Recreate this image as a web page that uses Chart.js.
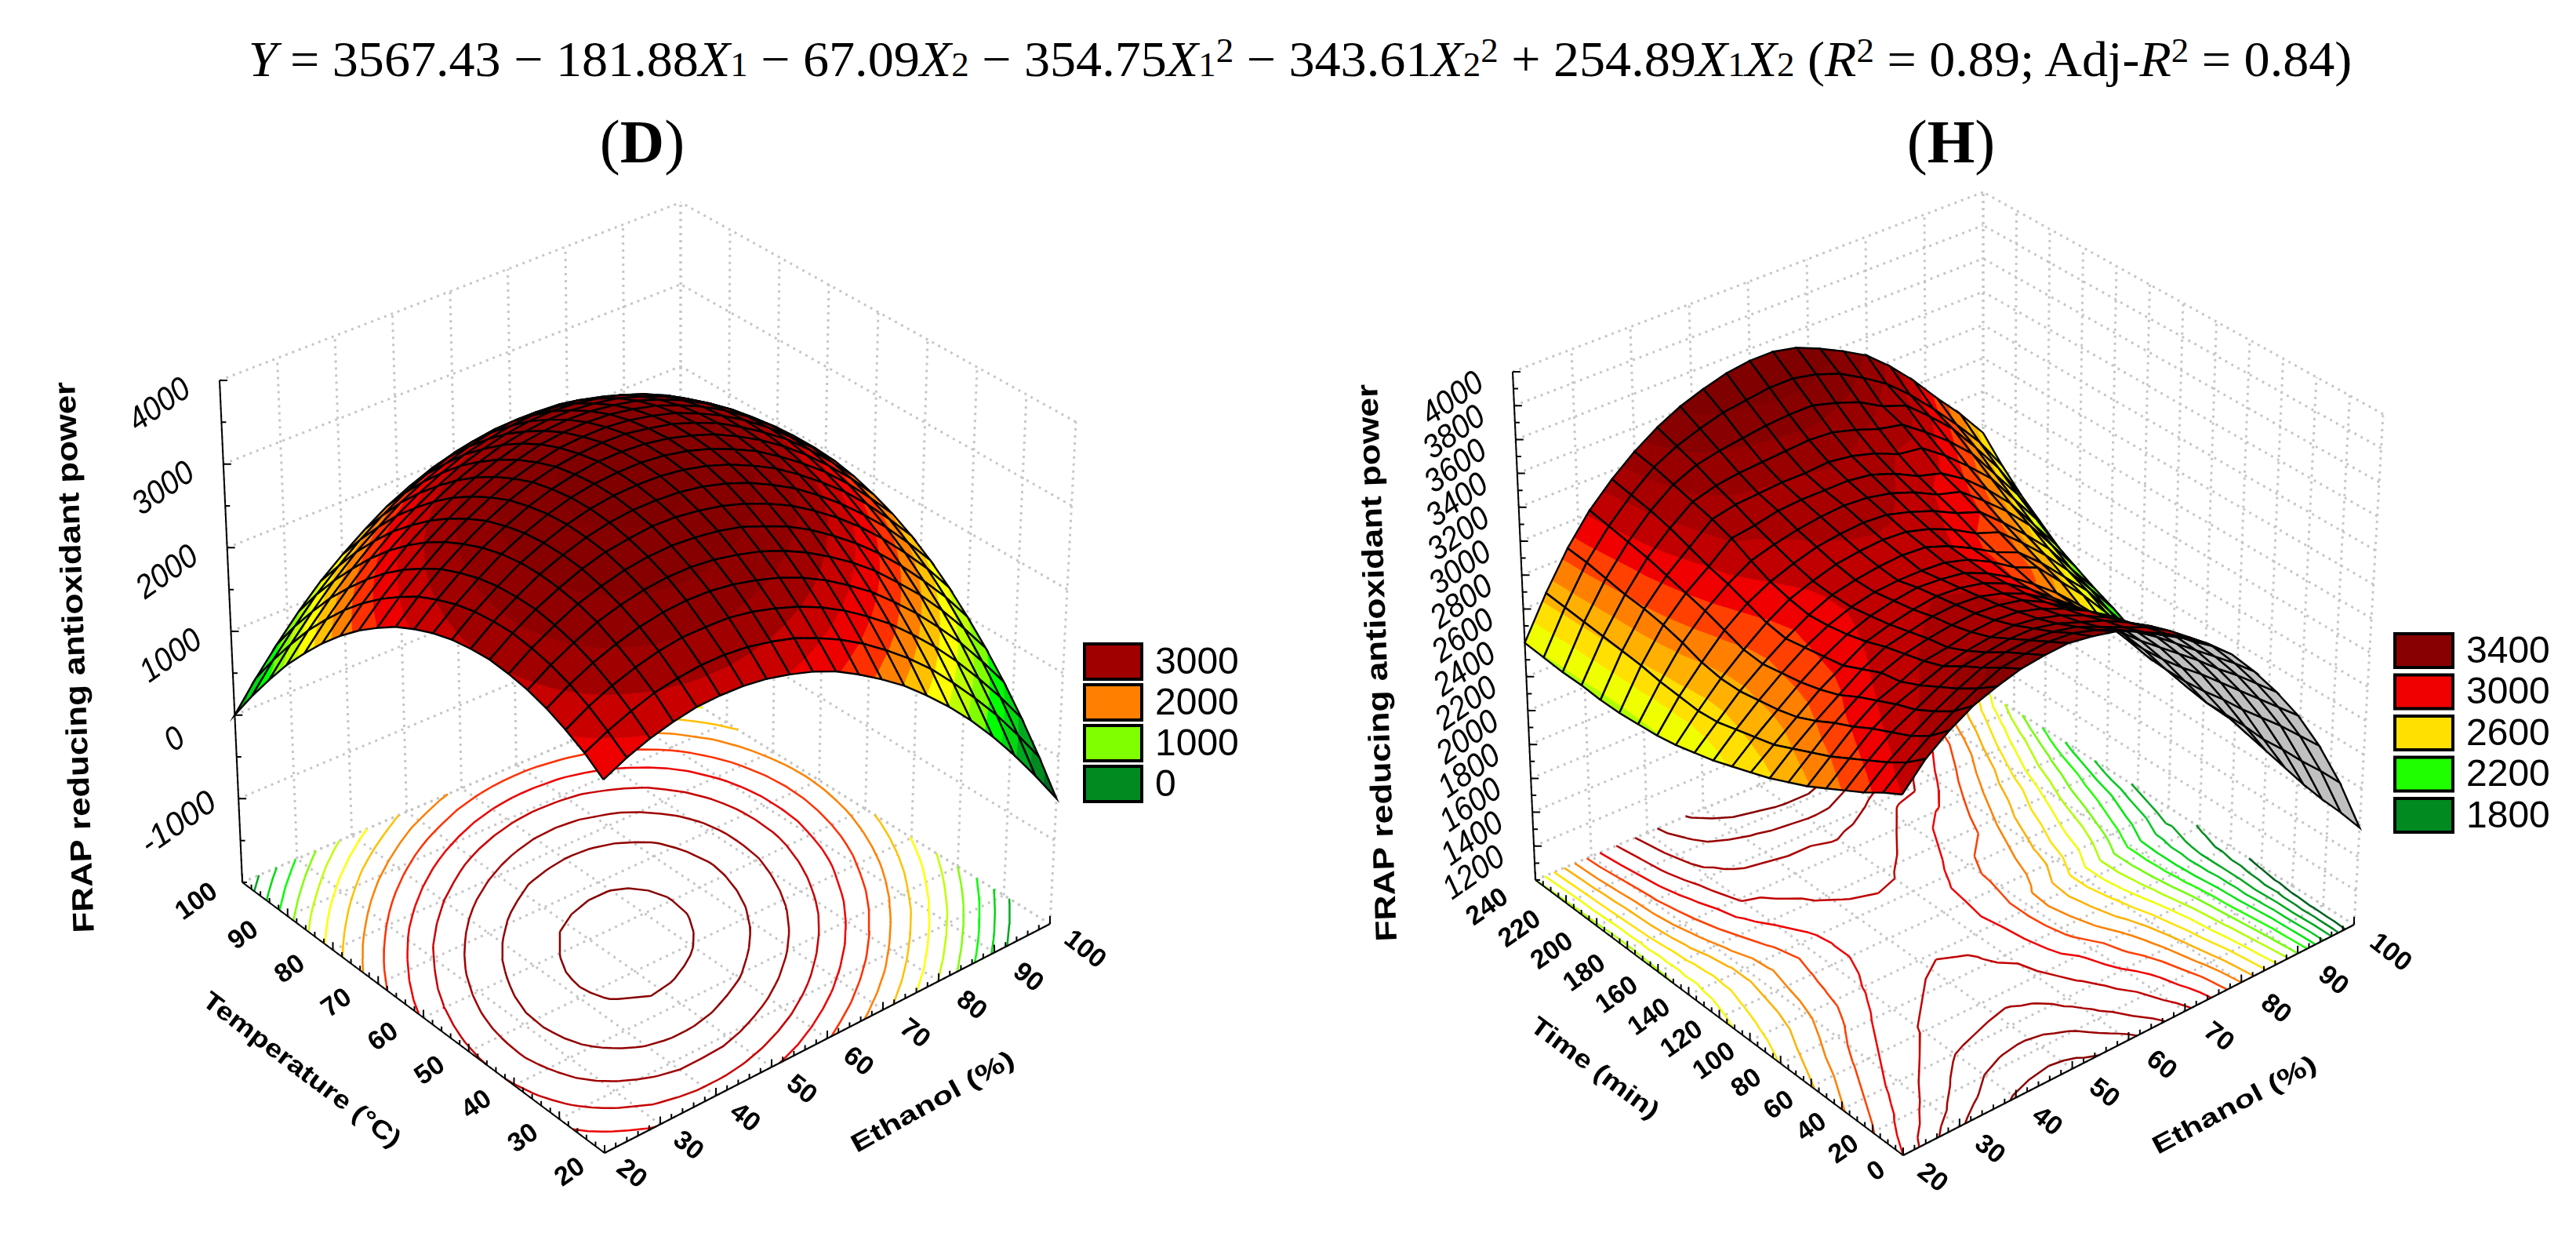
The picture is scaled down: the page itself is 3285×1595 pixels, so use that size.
<!DOCTYPE html>
<html lang="en">
<head>
<meta charset="UTF-8">
<title>FRAP response surfaces</title>
<script src="https://cdn.jsdelivr.net/npm/chart.js"></script>
<style>
  html, body { margin: 0; background: #fff; overflow: hidden; }
  #page { position: relative; width: 3285px; height: 1595px; }
  canvas { position: absolute; top: 0; }
  #equation { position: absolute; left: 1658px; top: 39px; white-space: nowrap; transform: translateX(-50%) scaleX(1.033);
    font: 64px "Liberation Serif", serif; color: #000; }
  #equation i { font-style: italic; }
  #equation .s { font-size: 0.68em; }
  #equation sup { font-size: 0.68em; line-height: 0; vertical-align: 0.42em; }
  .letter { position: absolute; top: 136px; transform: translateX(-50%); font: 78px "Liberation Serif", serif; }
  .letter b { font-weight: bold; }
</style>
</head>
<body>
<div id="page">
  <div id="equation"><i>Y</i> = 3567.43 − 181.88<i>X</i><span class="s">1</span> − 67.09<i>X</i><span class="s">2</span> − 354.75<i>X</i><span class="s">1</span><sup>2</sup> − 343.61<i>X</i><span class="s">2</span><sup>2</sup> + 254.89<i>X</i><span class="s">1</span><i>X</i><span class="s">2</span> (<i>R</i><sup>2</sup> = 0.89; Adj-<i>R</i><sup>2</sup> = 0.84)</div>
  <div class="letter" style="left:819px">(<b>D</b>)</div>
  <div class="letter" style="left:2488px">(<b>H</b>)</div>
  <canvas id="chartD" width="1640" height="1595" style="left:0"></canvas>
  <canvas id="chartH" width="1645" height="1595" style="left:1640px"></canvas>
</div>
<script>
  const ethanolTicks = [20, 30, 40, 50, 60, 70, 80, 90, 100];
  const temperatureTicks = [20, 30, 40, 50, 60, 70, 80, 90, 100];
  const timeTicks = [0, 20, 40, 60, 80, 100, 120, 140, 160, 180, 200, 220, 240];
  const frapTicksD = [-1000, 0, 1000, 2000, 3000, 4000];
  const frapTicksH = [1200, 1400, 1600, 1800, 2000, 2200, 2400, 2600, 2800, 3000, 3200, 3400, 3600, 3800, 4000];

  const ethanolGrid = [20, 24, 28, 32, 36, 40, 44, 48, 52, 56, 60, 64, 68, 72, 76, 80, 84, 88, 92, 96, 100];
  const temperatureGrid = [20, 24, 28, 32, 36, 40, 44, 48, 52, 56, 60, 64, 68, 72, 76, 80, 84, 88, 92, 96, 100];
  const timeGrid = [0, 12, 24, 36, 48, 60, 72, 84, 96, 108, 120, 132, 144, 156, 168, 180, 192, 204, 216, 228, 240];

  // one row per temperature, one column per ethanol
  const frapD = [
    [2250, 2380, 2480, 2550, 2600, 2610, 2600, 2560, 2490, 2400, 2280, 2120, 1940, 1740, 1500, 1240, 950, 630, 280, -100, -500],
    [2410, 2540, 2650, 2740, 2790, 2820, 2820, 2790, 2730, 2650, 2530, 2390, 2220, 2020, 1800, 1550, 1260, 950, 620, 250, -140],
    [2530, 2680, 2800, 2890, 2960, 3000, 3000, 2990, 2940, 2860, 2760, 2630, 2470, 2280, 2070, 1820, 1550, 1250, 920, 570, 190],
    [2630, 2790, 2920, 3020, 3100, 3150, 3170, 3160, 3120, 3050, 2960, 2840, 2690, 2510, 2310, 2070, 1810, 1520, 1210, 860, 490],
    [2700, 2870, 3010, 3130, 3210, 3270, 3300, 3300, 3270, 3210, 3130, 3020, 2880, 2710, 2520, 2300, 2040, 1770, 1460, 1120, 760],
    [2740, 2920, 3070, 3200, 3290, 3360, 3400, 3410, 3390, 3350, 3280, 3170, 3050, 2890, 2700, 2490, 2250, 1980, 1680, 1360, 1000],
    [2760, 2950, 3110, 3240, 3350, 3430, 3470, 3500, 3490, 3450, 3390, 3300, 3180, 3040, 2860, 2660, 2430, 2170, 1880, 1570, 1220],
    [2740, 2940, 3110, 3260, 3370, 3460, 3520, 3550, 3550, 3530, 3480, 3400, 3290, 3150, 2990, 2790, 2570, 2320, 2050, 1740, 1410],
    [2700, 2910, 3090, 3250, 3370, 3470, 3540, 3580, 3590, 3580, 3540, 3470, 3370, 3240, 3090, 2900, 2690, 2460, 2190, 1890, 1570],
    [2630, 2850, 3040, 3210, 3340, 3450, 3530, 3580, 3600, 3600, 3570, 3510, 3420, 3300, 3160, 2980, 2780, 2560, 2300, 2010, 1700],
    [2530, 2760, 2960, 3140, 3280, 3400, 3490, 3550, 3590, 3590, 3570, 3520, 3440, 3340, 3200, 3040, 2850, 2630, 2380, 2110, 1800],
    [2410, 2650, 2860, 3040, 3200, 3330, 3430, 3500, 3540, 3560, 3550, 3500, 3440, 3340, 3220, 3060, 2880, 2680, 2440, 2170, 1880],
    [2250, 2500, 2720, 2920, 3080, 3220, 3330, 3410, 3470, 3490, 3490, 3460, 3400, 3320, 3200, 3060, 2890, 2690, 2460, 2210, 1930],
    [2070, 2330, 2560, 2770, 2940, 3090, 3210, 3300, 3370, 3400, 3410, 3390, 3340, 3270, 3160, 3030, 2870, 2680, 2460, 2220, 1950],
    [1860, 2130, 2370, 2590, 2770, 2930, 3060, 3160, 3240, 3280, 3300, 3290, 3250, 3190, 3090, 2970, 2820, 2640, 2430, 2200, 1940],
    [1620, 1900, 2150, 2380, 2570, 2740, 2880, 2990, 3080, 3130, 3160, 3160, 3130, 3080, 2990, 2880, 2740, 2570, 2380, 2150, 1900],
    [1350, 1640, 1900, 2140, 2350, 2520, 2670, 2800, 2890, 2960, 3000, 3010, 2990, 2940, 2870, 2770, 2640, 2480, 2290, 2080, 1840],
    [1060, 1360, 1630, 1870, 2090, 2280, 2440, 2570, 2680, 2750, 2800, 2820, 2810, 2780, 2710, 2620, 2500, 2360, 2180, 1980, 1740],
    [730, 1040, 1320, 1580, 1810, 2000, 2180, 2320, 2430, 2520, 2580, 2610, 2610, 2590, 2530, 2450, 2340, 2200, 2040, 1840, 1620],
    [380, 700, 990, 1260, 1490, 1700, 1880, 2040, 2160, 2260, 2330, 2370, 2380, 2360, 2320, 2250, 2150, 2020, 1870, 1680, 1470],
    [0, 330, 630, 910, 1160, 1370, 1560, 1730, 1860, 1970, 2050, 2100, 2120, 2120, 2080, 2020, 1930, 1810, 1670, 1490, 1290]
  ];

  // one row per time, one column per ethanol
  const frapH = [
    [3000, 3140, 3240, 3320, 3370, 3410, 3430, 3440, 3420, 3390, 3330, 3250, 3170, 3080, 2960, 2800, 2620, 2420, 2180, 1900, 1570],
    [2940, 3050, 3140, 3220, 3290, 3350, 3370, 3380, 3370, 3330, 3270, 3200, 3130, 3050, 2940, 2780, 2600, 2400, 2170, 1900, 1590],
    [2870, 2980, 3070, 3150, 3220, 3280, 3310, 3320, 3310, 3280, 3220, 3160, 3100, 3020, 2900, 2750, 2580, 2380, 2160, 1890, 1600],
    [2810, 2920, 3020, 3090, 3160, 3220, 3240, 3260, 3260, 3230, 3180, 3130, 3060, 2980, 2870, 2720, 2550, 2360, 2140, 1890, 1620],
    [2750, 2860, 2970, 3050, 3100, 3150, 3180, 3200, 3210, 3190, 3150, 3090, 3020, 2930, 2830, 2690, 2530, 2340, 2120, 1880, 1650],
    [2690, 2800, 2910, 3000, 3050, 3110, 3130, 3160, 3170, 3160, 3120, 3060, 2990, 2900, 2790, 2660, 2500, 2320, 2110, 1890, 1680],
    [2640, 2750, 2860, 2950, 3030, 3080, 3110, 3130, 3140, 3130, 3100, 3030, 2940, 2850, 2740, 2620, 2470, 2290, 2090, 1890, 1710],
    [2590, 2700, 2800, 2890, 2980, 3050, 3080, 3110, 3120, 3110, 3070, 3010, 2920, 2820, 2710, 2590, 2440, 2270, 2080, 1890, 1740],
    [2550, 2650, 2750, 2850, 2930, 3010, 3050, 3080, 3100, 3090, 3060, 3000, 2910, 2800, 2690, 2570, 2420, 2260, 2080, 1910, 1780],
    [2510, 2620, 2720, 2820, 2910, 2980, 3030, 3060, 3080, 3070, 3050, 2990, 2910, 2810, 2700, 2570, 2420, 2260, 2090, 1940, 1820],
    [2470, 2590, 2700, 2800, 2890, 2960, 3010, 3040, 3050, 3050, 3040, 3000, 2930, 2840, 2780, 2640, 2500, 2340, 2160, 2000, 1800],
    [2440, 2560, 2680, 2780, 2870, 2950, 3010, 3040, 3060, 3070, 3060, 3010, 2940, 2860, 2800, 2680, 2540, 2400, 2220, 2050, 1850],
    [2410, 2550, 2680, 2790, 2890, 2970, 3020, 3060, 3080, 3090, 3080, 3040, 2980, 2900, 2850, 2730, 2600, 2450, 2280, 2110, 1900],
    [2390, 2560, 2700, 2830, 2930, 3000, 3050, 3090, 3110, 3120, 3110, 3070, 3020, 2950, 2900, 2780, 2650, 2510, 2330, 2160, 1940],
    [2380, 2570, 2740, 2870, 2970, 3050, 3090, 3120, 3140, 3150, 3140, 3110, 3060, 2990, 2950, 2840, 2720, 2580, 2400, 2220, 2000],
    [2370, 2590, 2770, 2900, 3000, 3110, 3130, 3160, 3170, 3170, 3170, 3150, 3100, 3030, 2990, 2900, 2780, 2640, 2460, 2280, 2060],
    [2370, 2600, 2790, 2930, 3040, 3150, 3180, 3190, 3200, 3200, 3210, 3190, 3150, 3090, 3070, 2970, 2850, 2720, 2540, 2360, 2130],
    [2380, 2610, 2800, 2960, 3080, 3180, 3220, 3240, 3250, 3260, 3270, 3260, 3220, 3170, 3140, 3040, 2930, 2800, 2620, 2440, 2220],
    [2380, 2620, 2820, 2980, 3110, 3210, 3270, 3300, 3320, 3340, 3350, 3350, 3310, 3260, 3180, 3130, 3010, 2880, 2710, 2530, 2310],
    [2390, 2630, 2840, 3000, 3130, 3240, 3310, 3360, 3400, 3420, 3440, 3440, 3410, 3360, 3280, 3190, 3070, 2930, 2780, 2620, 2420],
    [2400, 2640, 2850, 3020, 3150, 3260, 3350, 3420, 3470, 3510, 3530, 3530, 3500, 3440, 3370, 3290, 3170, 3030, 2870, 2720, 2550]
  ];

  const bandFloorsD = [-500, -250, 0, 250, 500, 750, 1000, 1250, 1500, 1750, 2000, 2250, 2500, 2750, 3000, 3250, 3500];
  const bandColorsD = ['#006a20', '#008a20', '#00a820', '#00d810', '#00ff00', '#80ff00', '#c0ff00', '#ffff00', '#ffc000',
    '#ff8000', '#ff3000', '#ee0000', '#c80000', '#a00000', '#900000', '#860000', '#800000'];
  const contourLevelsD = [250, 500, 750, 1000, 1250, 1500, 1750, 2000, 2250, 2500, 2750, 3000, 3250, 3500];

  const bandFloorsH = [1600, 1700, 1800, 1900, 2000, 2100, 2200, 2300, 2400, 2500, 2600, 2700, 2800, 2900, 3000, 3100, 3200, 3300, 3400];
  const bandColorsH = ['#006020', '#008a20', '#00a820', '#00c820', '#00e610', '#20ff00', '#70ff00', '#b0ff00', '#f0ff00', '#ffe000',
    '#ffb000', '#ff8000', '#ff4000', '#f00000', '#c00000', '#a80000', '#980000', '#880000', '#800000'];
  const contourLevelsH = [1700, 1800, 1900, 2000, 2100, 2200, 2300, 2400, 2500, 2600, 2700, 2800, 2900, 3000, 3100, 3200, 3300, 3400];

  const legendLabelsD = ['3000', '2000', '1000', '0'];
  const legendColorsD = ['#a00000', '#ff8000', '#80ff00', '#008a20'];
  const legendLabelsH = ['3400', '3000', '2600', '2200', '1800'];
  const legendColorsH = ['#880000', '#f00000', '#ffe000', '#20ff00', '#008a20'];

  const FRAP_TITLE = 'FRAP reducing antioxidant power';

  const panelD = {
    id: 'chartD', width: 1640,
    xGrid: ethanolGrid, yGrid: temperatureGrid, values: frapD,
    xTicks: ethanolTicks, yTicks: temperatureTicks, zTicks: frapTicksD,
    xMinor: 2, yMinor: 2, zMinor: 500, zMin: -2000, zMax: 4000,
    floors: bandFloorsD, colors: bandColorsD, levels: contourLevelsD, backColor: null,
    legendLabels: legendLabelsD, legendColors: legendColorsD,
    // corners of the box in canvas pixels: F front, L left, R right, B back; T* the same on top
    box: { F: [771, 1470], L: [309, 1125], R: [1339, 1178], B: [868, 885], TF: [769, 798], TL: [280, 485], TR: [1372, 538], TB: [868, 258] },
    layout: {
      yLabel: [97, 838, 703], yLabelAngle: -92,
      xOff: [[34, 27], [44, 33]], yOff: [[-44, 25], [-58, 25]], zOff: [-76, 32],
      xTitle: ['Ethanol (%)', 1190, 1406, -29, 233], yTitle: ['Temperature (°C)', 384, 1365, 37, 307],
      legend: [1383, 821, 73, 45, 52]
    }
  };

  const panelH = {
    id: 'chartH', width: 1645,
    xGrid: ethanolGrid, yGrid: timeGrid, values: frapH,
    xTicks: ethanolTicks, yTicks: timeTicks, zTicks: frapTicksH,
    xMinor: 2, yMinor: 5, zMinor: 100, zMin: 1000, zMax: 4000,
    floors: bandFloorsH, colors: bandColorsH, levels: contourLevelsH, backColor: '#c0c0c0',
    legendLabels: legendLabelsH, legendColors: legendColorsH,
    box: { F: [787, 1473], L: [318, 1122], R: [1362, 1179], B: [889, 880], TF: [785, 783], TL: [289, 474], TR: [1399, 528], TB: [889, 245] },
    layout: {
      yLabel: [118, 845, 711], yLabelAngle: -92,
      xOff: [[37, 29], [46, 36]], yOff: [[-34, 21], [-61, 35]], zOff: [-76, 35],
      xTitle: ['Ethanol (%)', 1210, 1410, -28, 232], yTitle: ['Time (min)', 393, 1363, 36.5, 195],
      legend: [1414, 808, 74, 43, 52.5]
    }
  };

  function mix4(a, b, c, d, u, v, k) {
    return a[k] * (1 - u) * (1 - v) + b[k] * u * (1 - v) + c[k] * (1 - u) * v + d[k] * u * v;
  }

  // 3D value -> point in the chart's own x/y units
  function project(p, x, y, z) {
    const xs = p.xGrid, ys = p.yGrid, b = p.box;
    const u = (x - xs[0]) / (xs[xs.length - 1] - xs[0]);
    const v = (y - ys[0]) / (ys[ys.length - 1] - ys[0]);
    const w = (z - p.zMin) / (p.zMax - p.zMin);
    const bx = mix4(b.F, b.R, b.L, b.B, u, v, 0), by = mix4(b.F, b.R, b.L, b.B, u, v, 1);
    const tx = mix4(b.TF, b.TR, b.TL, b.TB, u, v, 0), ty = mix4(b.TF, b.TR, b.TL, b.TB, u, v, 1);
    return { x: bx + (tx - bx) * w, y: by + (ty - by) * w };
  }

  function bandIndex(p, z) {
    let k = 0;
    for (let i = 0; i < p.floors.length; i++) if (z >= p.floors[i]) k = i;
    return k;
  }

  function levelColor(p, level) {
    return p.colors[bandIndex(p, level - 1)];
  }

  function clipAbove(poly, limit, sign) {
    const out = [];
    for (let i = 0; i < poly.length; i++) {
      const a = poly[i], b = poly[(i + 1) % poly.length];
      const ina = (a.z - limit) * sign >= 0, inb = (b.z - limit) * sign >= 0;
      if (ina) out.push(a);
      if (ina !== inb) {
        const t = (limit - a.z) / (b.z - a.z);
        out.push({ x: a.x + (b.x - a.x) * t, y: a.y + (b.y - a.y) * t, z: limit });
      }
    }
    return out;
  }

  function lineSet(data, color, width, dash) {
    return { data, showLine: true, fill: false, borderColor: color, borderWidth: width, borderDash: dash || [],
      pointRadius: 0, tension: 0, spanGaps: false, borderCapStyle: 'butt' };
  }

  function polySet(data, color) {
    return { data, showLine: true, fill: 'shape', backgroundColor: color, borderColor: color, borderWidth: 1,
      pointRadius: 0, tension: 0 };
  }

  function closed(p, pts) {
    const out = pts.map(q => project(p, q.x, q.y, q.z));
    out.push(out[0]);
    return out;
  }

  function wallSets(p) {
    const sets = [], x0 = p.xGrid[0], x1 = p.xGrid[p.xGrid.length - 1], y0 = p.yGrid[0], y1 = p.yGrid[p.yGrid.length - 1];
    const add = (a, b) => sets.push(lineSet([a, b], '#c6c6c6', 3, [3, 6]));
    const zs = [p.zMin, ...p.zTicks];
    zs.forEach(z => {
      add(project(p, x0, y1, z), project(p, x1, y1, z));
      add(project(p, x1, y0, z), project(p, x1, y1, z));
    });
    p.xTicks.forEach(x => {
      add(project(p, x, y1, p.zMin), project(p, x, y1, p.zMax));
      add(project(p, x, y0, p.zMin), project(p, x, y1, p.zMin));
    });
    p.yTicks.forEach(y => {
      add(project(p, x1, y, p.zMin), project(p, x1, y, p.zMax));
      add(project(p, x0, y, p.zMin), project(p, x1, y, p.zMin));
    });
    return sets;
  }

  function cellCorners(p, i, j) {
    const q = (a, b) => ({ x: p.xGrid[a], y: p.yGrid[b], z: p.values[b][a] });
    return [q(i, j), q(i + 1, j), q(i + 1, j + 1), q(i, j + 1)];
  }

  function contourSets(p) {
    const sets = [], n = p.xGrid.length, m = p.yGrid.length;
    p.levels.forEach(level => {
      const data = [];
      for (let j = 0; j < m - 1; j++) {
        for (let i = 0; i < n - 1; i++) {
          const c = cellCorners(p, i, j);
          [[c[0], c[1], c[2]], [c[0], c[2], c[3]]].forEach(tri => {
            const hits = [];
            for (let k = 0; k < 3; k++) {
              const a = tri[k], b = tri[(k + 1) % 3];
              if ((a.z >= level) !== (b.z >= level)) {
                const t = (level - a.z) / (b.z - a.z);
                hits.push(project(p, a.x + (b.x - a.x) * t, a.y + (b.y - a.y) * t, p.zMin));
              }
            }
            if (hits.length === 2) data.push(hits[0], hits[1], { x: NaN, y: NaN });
          });
        }
      }
      sets.push(lineSet(data, levelColor(p, level), 2.5));
    });
    return sets;
  }

  function signedArea(pts) {
    let s = 0;
    for (let i = 0; i < pts.length - 1; i++) s += pts[i].x * pts[i + 1].y - pts[i + 1].x * pts[i].y;
    return s;
  }

  function cellSets(p) {
    const sets = [], n = p.xGrid.length, m = p.yGrid.length;
    const reference = signedArea(closed(p, [
      { x: p.xGrid[0], y: p.yGrid[0], z: p.zMin }, { x: p.xGrid[n - 1], y: p.yGrid[0], z: p.zMin },
      { x: p.xGrid[n - 1], y: p.yGrid[m - 1], z: p.zMin }, { x: p.xGrid[0], y: p.yGrid[m - 1], z: p.zMin }]));
    // back to front so that nearer cells cover farther ones
    for (let s = n + m - 4; s >= 0; s--) {
      for (let j = 0; j < m - 1; j++) {
        const i = s - j;
        if (i < 0 || i >= n - 1) continue;
        const c = cellCorners(p, i, j);
        const outline = closed(p, c);
        if (p.backColor && signedArea(outline) * reference < 0) {
          sets.push(polySet(outline, p.backColor));
        } else {
          const low = bandIndex(p, Math.min(...c.map(q => q.z))), high = bandIndex(p, Math.max(...c.map(q => q.z)));
          if (low === high) {
            sets.push(polySet(outline, p.colors[low]));
          } else {
            [[c[0], c[1], c[2]], [c[0], c[2], c[3]]].forEach(tri => {
              for (let k = low; k <= high; k++) {
                let poly = tri;
                if (k > 0) poly = clipAbove(poly, p.floors[k], 1);
                if (k < p.floors.length - 1 && poly.length) poly = clipAbove(poly, p.floors[k + 1], -1);
                if (poly.length > 2) sets.push(polySet(closed(p, poly), p.colors[k]));
              }
            });
          }
        }
        sets.push(lineSet(outline, '#000', 2.4));
      }
    }
    return sets;
  }

  function axisSets(p) {
    const x0 = p.xGrid[0], x1 = p.xGrid[p.xGrid.length - 1], y0 = p.yGrid[0], y1 = p.yGrid[p.yGrid.length - 1];
    const sets = [
      lineSet([project(p, x0, y0, p.zMin), project(p, x1, y0, p.zMin)], '#000', 2),
      lineSet([project(p, x0, y0, p.zMin), project(p, x0, y1, p.zMin)], '#000', 2),
      lineSet([project(p, x0, y1, p.zMin), project(p, x0, y1, p.zMax)], '#000', 2)
    ];
    const ticks = [], gap = { x: NaN, y: NaN };
    const drop = (q, dx, dy) => ticks.push(q, { x: q.x + dx, y: q.y + dy }, gap);
    for (let x = x0; x <= x1; x += p.xMinor) drop(project(p, x, y0, p.zMin), 0, p.xTicks.includes(x) ? -10 : -6);
    for (let y = y0; y <= y1; y += p.yMinor) drop(project(p, x0, y, p.zMin), 0, p.yTicks.includes(y) ? -10 : -6);
    for (let z = p.zMin; z <= p.zMax; z += p.zMinor) drop(project(p, x0, y1, z), p.zTicks.includes(z) ? 10 : 6, 0);
    sets.push(lineSet(ticks, '#000', 2));
    return sets;
  }

  function putText(ctx, chart, text, x, y, angle, font, length) {
    ctx.save();
    ctx.translate(chart.scales.x.getPixelForValue(x), chart.scales.y.getPixelForValue(y));
    ctx.rotate(angle * Math.PI / 180);
    ctx.font = font;
    ctx.fillStyle = '#000';
    ctx.textAlign = 'center';
    ctx.textBaseline = 'middle';
    if (length) ctx.scale(length / ctx.measureText(text).width, 1);
    ctx.fillText(text, 0, 0);
    ctx.restore();
  }

  function textPlugin(p) {
    return {
      id: 'boxText',
      afterDraw(chart) {
        const ctx = chart.ctx, l = p.layout;
        const x0 = p.xGrid[0], x1 = p.xGrid[p.xGrid.length - 1], y0 = p.yGrid[0], y1 = p.yGrid[p.yGrid.length - 1];
        putText(ctx, chart, FRAP_TITLE, l.yLabel[0], l.yLabel[1], l.yLabelAngle, 'bold 38px "Liberation Sans"', l.yLabel[2]);
        p.zTicks.forEach(z => {
          const q = project(p, x0, y1, z), label = String(z);
          putText(ctx, chart, label, q.x + l.zOff[0], q.y + l.zOff[1], -35, 'italic 42px "Liberation Sans"', label.length * 21.5);
        });
        p.xTicks.forEach(x => {
          const t = (x - x0) / (x1 - x0), q = project(p, x, y0, p.zMin);
          const dx = l.xOff[0][0] + (l.xOff[1][0] - l.xOff[0][0]) * t, dy = l.xOff[0][1] + (l.xOff[1][1] - l.xOff[0][1]) * t;
          putText(ctx, chart, String(x), q.x + dx, q.y + dy, 38, 'bold 34px "Liberation Sans"');
        });
        p.yTicks.forEach(y => {
          const t = (y - y0) / (y1 - y0), q = project(p, x0, y, p.zMin);
          const dx = l.yOff[0][0] + (l.yOff[1][0] - l.yOff[0][0]) * t, dy = l.yOff[0][1] + (l.yOff[1][1] - l.yOff[0][1]) * t;
          putText(ctx, chart, String(y), q.x + dx, q.y + dy, -35, 'bold 34px "Liberation Sans"');
        });
        [l.xTitle, l.yTitle].forEach(a => putText(ctx, chart, a[0], a[1], a[2], a[3], 'bold 32px "Liberation Sans"', a[4]));
        const [lx, ly, lw, lh, step] = l.legend;
        p.legendLabels.forEach((label, i) => {
          const top = ly + i * step;
          ctx.fillStyle = p.legendColors[i];
          ctx.fillRect(lx, top, lw, lh);
          ctx.strokeStyle = '#000';
          ctx.lineWidth = 4;
          ctx.strokeRect(lx, top, lw, lh);
          ctx.fillStyle = '#000';
          ctx.font = '48px "Liberation Sans"';
          ctx.textAlign = 'left';
          ctx.textBaseline = 'middle';
          ctx.fillText(label, lx + lw + 17, top + lh / 2 + 2);
        });
      }
    };
  }

  function drawPanel(p) {
    const paint = [...wallSets(p), ...contourSets(p), ...axisSets(p), ...cellSets(p)];
    new Chart(document.getElementById(p.id), {
      type: 'scatter',
      // Chart.js paints the last dataset first
      data: { datasets: paint.reverse() },
      options: {
        responsive: false,
        animation: false,
        devicePixelRatio: 1,
        events: [],
        layout: { padding: 0 },
        plugins: { legend: { display: false }, tooltip: { enabled: false } },
        scales: {
          x: { type: 'linear', min: 0, max: p.width, display: false },
          y: { type: 'linear', min: 0, max: 1595, reverse: true, display: false }
        }
      },
      plugins: [textPlugin(p)]
    });
  }

  drawPanel(panelD);
  drawPanel(panelH);
</script>
</body>
</html>
